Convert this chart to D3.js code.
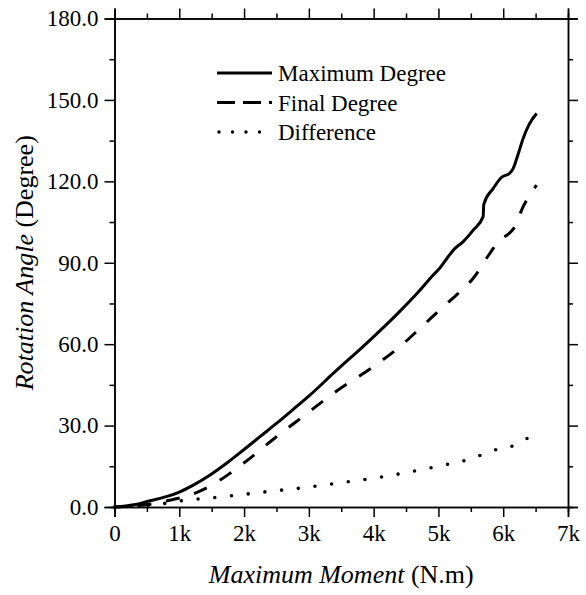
<!DOCTYPE html>
<html>
<head>
<meta charset="utf-8">
<script src="https://cdn.jsdelivr.net/npm/d3@7"></script>
<style>
  body { margin: 0; background: #fff; }
</style>
</head>
<body>
<div id="area"></div>
<script>
// data (moment in N.m, angle in degree)
var momentMax = [0, 300, 550, 800, 1010, 1250, 1475, 1750, 1990, 2250, 2500, 2750, 3020, 3380, 3890, 4400, 4700, 4920, 5020, 5150, 5255, 5383, 5537, 5690, 5700, 5846, 5975, 6100, 6155, 6230, 6310, 6400, 6515];
var maxDegree = [0, 0.8, 2.3, 3.8, 5.6, 8.5, 11.8, 16.5, 21, 26, 30.8, 35.8, 41.3, 49.3, 60.3, 72, 79.5, 85.5, 88, 92.2, 95.3, 97.8, 102, 107, 111.5, 117.4, 121.5, 123, 124.8, 130, 136, 141, 145];

var momentFinal = [0, 300, 550, 800, 1165, 1475, 1990, 2500, 2940, 3380, 3995, 4400, 4715, 5075, 5305, 5537, 5795, 5950, 6077, 6207, 6284, 6412, 6515];
var finalDegree = [0, 0.3, 1.0, 2.2, 4.4, 7.7, 16.1, 25.9, 33.9, 41.9, 51.7, 59, 65.8, 73.8, 78.7, 84.3, 93.5, 98.6, 100.5, 104.5, 109.4, 115, 118.6];

var momentDiff = [0, 300, 700, 1140, 1420, 1680, 2450, 2735, 2990, 3506, 4030, 4550, 5075, 5486, 5872, 6103, 6310, 6495];
var difference = [0, 0.3, 1.1, 2.6, 3.2, 3.8, 5.9, 6.6, 7.3, 9, 10.7, 12.9, 15.4, 17.6, 21, 22.1, 24.6, 26.6];

var xTicks = [0, 1000, 2000, 3000, 4000, 5000, 6000, 7000];
var xTickLabels = ["0", "1k", "2k", "3k", "4k", "5k", "6k", "7k"];
var yTicks = [0, 30, 60, 90, 120, 150, 180];
var legendNames = ["Maximum Degree", "Final Degree", "Difference"];

var FONT = "Liberation Serif";

var margin = { top: 18.5, right: 18, bottom: 88, left: 114.5 },
    width = 586 - margin.left - margin.right,
    height = 595 - margin.top - margin.bottom;

var svg = d3.select("#area")
    .append("svg")
    .attr("width", 586)
    .attr("height", 595);
var g = svg.append("g")
    .attr("transform", "translate(" + margin.left + "," + margin.top + ")");

var x = d3.scaleLinear().domain([0, 7000]).range([0, width]);
var y = d3.scaleLinear().domain([0, 180]).range([height, 0]);

var minorX = d3.range(500, 7000, 1000);
var minorY = d3.range(15, 180, 30);

function styleAxis(sel) {
    sel.attr("font-family", FONT);
    sel.select(".domain").attr("stroke", "#000").attr("stroke-width", 1.5);
    sel.selectAll(".tick line").attr("stroke", "#000").attr("stroke-width", 1.5);
    sel.selectAll("text").attr("fill", "#000")
        .attr("font-family", FONT).attr("font-size", 23);
}

// bottom
g.append("g").attr("transform", "translate(0," + height + ")")
    .call(d3.axisBottom(x).tickValues(xTicks).tickSize(10).tickPadding(8)
        .tickFormat(function (d, i) { return xTickLabels[i]; }))
    .call(styleAxis);
g.append("g").attr("transform", "translate(0," + height + ")")
    .call(d3.axisBottom(x).tickValues(minorX).tickSize(5).tickFormat(""))
    .call(styleAxis);
// top
g.append("g")
    .call(d3.axisTop(x).tickValues(xTicks).tickSize(10).tickFormat(""))
    .call(styleAxis);
g.append("g")
    .call(d3.axisTop(x).tickValues(minorX).tickSize(5).tickFormat(""))
    .call(styleAxis);
// left
g.append("g")
    .call(d3.axisLeft(y).tickValues(yTicks).tickSize(10).tickPadding(6)
        .tickFormat(d3.format(".1f")))
    .call(styleAxis);
g.append("g")
    .call(d3.axisLeft(y).tickValues(minorY).tickSize(5).tickFormat(""))
    .call(styleAxis);
// right
g.append("g").attr("transform", "translate(" + width + ",0)")
    .call(d3.axisRight(y).tickValues(yTicks).tickSize(10).tickFormat(""))
    .call(styleAxis);
g.append("g").attr("transform", "translate(" + width + ",0)")
    .call(d3.axisRight(y).tickValues(minorY).tickSize(5).tickFormat(""))
    .call(styleAxis);

var line = d3.line()
    .x(function (d) { return x(d[0]); })
    .y(function (d) { return y(d[1]); })
    .curve(d3.curveMonotoneX);

var series = [
    { m: momentMax, v: maxDegree, dash: null, w: 3 },
    { m: momentFinal, v: finalDegree, dash: "14,15", w: 3 },
    { m: momentDiff, v: difference, dash: "0,16.8", w: 3.6 }
];

series.forEach(function (s) {
    var pts = s.m.map(function (mm, i) { return [mm, s.v[i]]; });
    g.append("path")
        .datum(pts)
        .attr("fill", "none")
        .attr("stroke", "#000")
        .attr("stroke-width", s.w)
        .attr("stroke-linecap", s.dash === "0,16.8" ? "round" : "butt")
        .attr("stroke-dasharray", s.dash)
        .attr("stroke-dashoffset", s.dash === "14,15" ? 6 : 0)
        .attr("d", line);
});

// legend
var leg = svg.append("g").attr("transform", "translate(217,73)");
var legDash = [null, "18,8", "0,13.5"];
legendNames.forEach(function (name, i) {
    var row = leg.append("g").attr("transform", "translate(0," + (i * 29.5) + ")");
    row.append("line")
        .attr("x1", i == 2 ? 2 : 0).attr("x2", 55)
        .attr("stroke", "#000")
        .attr("stroke-width", i == 2 ? 3.4 : 3)
        .attr("stroke-linecap", i == 2 ? "round" : "butt")
        .attr("stroke-dasharray", legDash[i]);
    row.append("text")
        .attr("x", 61).attr("y", 8)
        .attr("font-family", FONT)
        .attr("font-size", 23)
        .text(name);
});

// axis titles
var xt = svg.append("text")
    .attr("x", margin.left + width / 2).attr("y", 583)
    .attr("text-anchor", "middle")
    .attr("font-family", FONT)
    .attr("font-size", 26);
xt.append("tspan").attr("font-style", "italic").text("Maximum Moment");
xt.append("tspan").text(" (N.m)");

var yt = svg.append("text")
    .attr("transform", "translate(33," + (margin.top + height / 2) + ") rotate(-90)")
    .attr("text-anchor", "middle")
    .attr("font-family", FONT)
    .attr("font-size", 26);
yt.append("tspan").attr("font-style", "italic").text("Rotation Angle");
yt.append("tspan").text(" (Degree)");
</script>
</body>
</html>
